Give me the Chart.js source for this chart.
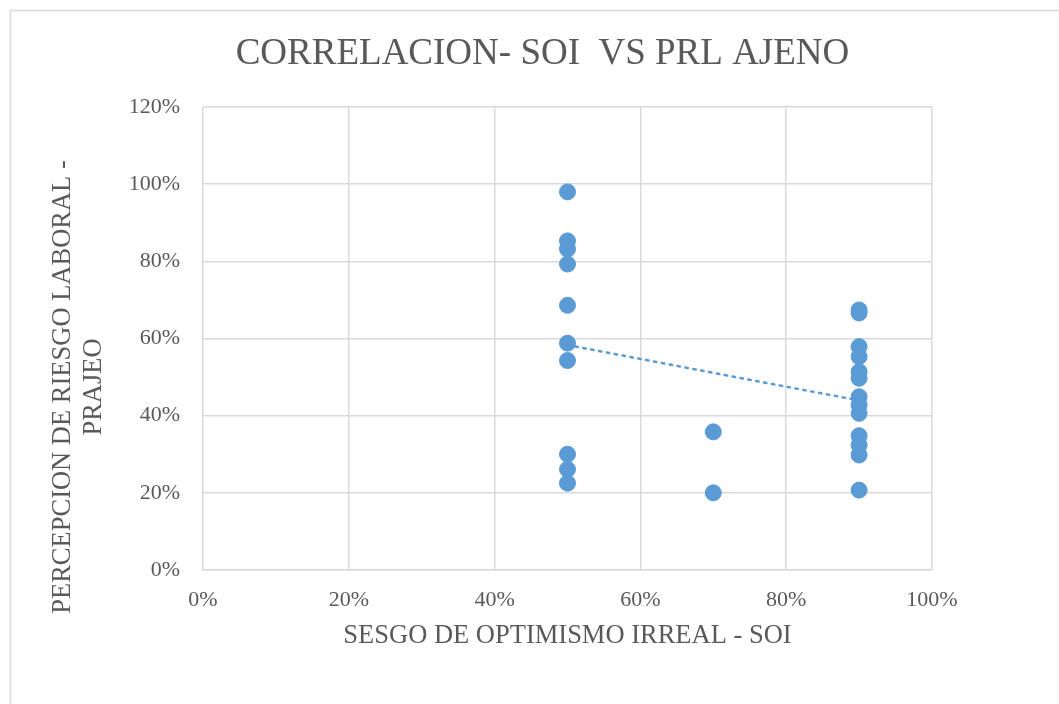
<!DOCTYPE html>
<html>
<head>
<meta charset="utf-8">
<script src="https://cdn.jsdelivr.net/npm/chart.js@4.4.1/dist/chart.umd.min.js"></script>
<style>
  html, body { margin: 0; padding: 0; background: #ffffff; }
  #wrap { width: 1059px; height: 704px; }
</style>
</head>
<body>
<div id="wrap"><canvas id="myChart" width="1059" height="704"></canvas></div>
<script>
const soiValues = [
  0.5, 0.5, 0.5, 0.5, 0.5, 0.5, 0.5, 0.5, 0.5, 0.5,
  0.7, 0.7,
  0.9, 0.9, 0.9, 0.9, 0.9, 0.9, 0.9, 0.9, 0.9, 0.9, 0.9, 0.9, 0.9,
];
const prajeoValues = [
  0.98, 0.853, 0.832, 0.793, 0.686, 0.588, 0.543, 0.3, 0.261, 0.225,
  0.358, 0.2,
  0.674, 0.666, 0.579, 0.553, 0.514, 0.497, 0.449, 0.428, 0.406, 0.348, 0.324, 0.298, 0.207,
];
const xTicks = [0, 0.2, 0.4, 0.6, 0.8, 1];
const yTicks = [0, 0.2, 0.4, 0.6, 0.8, 1, 1.2];

const chartTitle = "CORRELACION- SOI  VS PRL AJENO";
const xTitle = "SESGO DE OPTIMISMO IRREAL - SOI";
const yTitle = ["PERCEPCION DE RIESGO LABORAL -", "PRAJEO"];

const serif = "'Liberation Serif', 'Times New Roman', serif";
const textGray = "#595959";
const gridGray = "#d9d9d9";
const blue = "#5b9bd5";

// least squares trend line over the points
const points = soiValues.map((x, i) => ({ x: x, y: prajeoValues[i] }));
const n = points.length;
const mx = soiValues.reduce((a, b) => a + b, 0) / n;
const my = prajeoValues.reduce((a, b) => a + b, 0) / n;
let sxy = 0;
let sxx = 0;
points.forEach((p) => {
  sxy += (p.x - mx) * (p.y - my);
  sxx += (p.x - mx) * (p.x - mx);
});
const slope = sxy / sxx;
const xMin = Math.min(...soiValues);
const xMax = Math.max(...soiValues);
const trend = [
  { x: xMin, y: my + slope * (xMin - mx) },
  { x: xMax, y: my + slope * (xMax - mx) },
];

const pct = (v) => Math.round(v * 100) + "%";

const framePlugin = {
  id: "frame",
  beforeDraw(chart) {
    const ctx = chart.ctx;
    ctx.save();
    ctx.fillStyle = "#ffffff";
    ctx.fillRect(0, 0, chart.width, chart.height);
    ctx.strokeStyle = gridGray;
    ctx.lineWidth = 1.5;
    ctx.strokeRect(10.5, 10.5, 1200, 1000);
    ctx.restore();
  },
  afterDraw(chart) {
    // rotated two line title of the value axis
    const ctx = chart.ctx;
    ctx.save();
    ctx.fillStyle = textGray;
    ctx.font = "26.5px " + serif;
    ctx.textAlign = "center";
    ctx.textBaseline = "middle";
    ctx.translate(63, 387);
    ctx.rotate(-Math.PI / 2);
    yTitle.forEach((line, i) => {
      ctx.fillText(line, 0, i * 31);
    });
    ctx.restore();
  },
};

new Chart("myChart", {
  type: "scatter",
  data: {
    datasets: [
      {
        data: points,
        backgroundColor: blue,
        borderColor: blue,
        pointRadius: 8,
        pointHoverRadius: 8,
        order: 1,
      },
      {
        type: "line",
        data: trend,
        borderColor: blue,
        borderWidth: 2.5,
        borderDash: [2.5, 5.5],
        borderCapStyle: "round",
        pointRadius: 0,
        fill: false,
        order: 2,
      },
    ],
  },
  options: {
    responsive: false,
    animation: false,
    layout: { padding: { left: 26, right: 0, top: 0, bottom: 0 } },
    plugins: {
      legend: { display: false },
      tooltip: { enabled: false },
      title: {
        display: true,
        text: chartTitle,
        color: textGray,
        font: { family: serif, size: 37, weight: "normal" },
        padding: { top: 32, bottom: 30.6 },
      },
    },
    scales: {
      x: {
        type: "linear",
        min: 0,
        max: 1,
        afterFit(scale) {
          scale.height = 134;
        },
        afterBuildTicks(scale) {
          scale.ticks = xTicks.map((v) => ({ value: v }));
        },
        grid: { color: gridGray, lineWidth: 1.5, drawTicks: false },
        border: { color: gridGray, width: 1.5 },
        ticks: {
          color: textGray,
          font: { family: serif, size: 22 },
          padding: 17,
          maxRotation: 0,
          callback: pct,
        },
        title: {
          display: true,
          text: xTitle,
          color: textGray,
          font: { family: serif, size: 26.5 },
          padding: { top: 0, bottom: 52 },
        },
      },
      y: {
        type: "linear",
        position: "left",
        min: 0,
        max: 1.2,
        afterFit(scale) {
          scale.width = 177;
        },
        afterBuildTicks(scale) {
          scale.ticks = yTicks.map((v) => ({ value: v }));
        },
        grid: { color: gridGray, lineWidth: 1.5, drawTicks: false },
        border: { display: false },
        ticks: {
          color: textGray,
          font: { family: serif, size: 22 },
          padding: 23,
          callback: pct,
        },
      },
      yRight: {
        type: "linear",
        position: "right",
        display: true,
        afterFit(scale) {
          scale.width = 127;
        },
        grid: { display: false, drawTicks: false },
        border: { display: false },
        ticks: { display: false },
      },
    },
  },
  plugins: [framePlugin],
});
</script>
</body>
</html>
